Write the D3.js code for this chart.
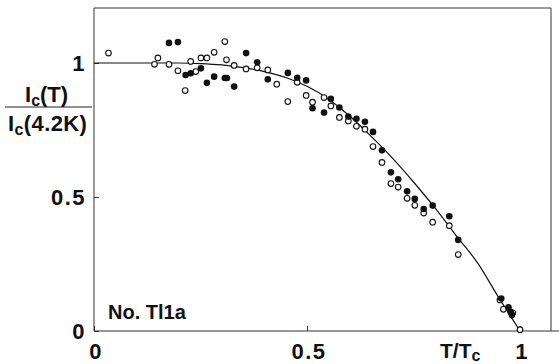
<!DOCTYPE html>
<html>
<head>
<meta charset="utf-8">
<script src="https://cdn.jsdelivr.net/npm/d3@7"></script>
<style>
  html, body { margin: 0; padding: 0; background: #fff; }
  svg { display: block; }
  text { font-family: "Liberation Sans", Arial, Helvetica, sans-serif; font-weight: bold; fill: #111; }
</style>
</head>
<body>
<svg id="chart" width="559" height="364"></svg>
<script>
// Reduced temperature and normalised critical current, sample No. Tl1a
const openT = [0.034, 0.150, 0.142, 0.176, 0.197, 0.227, 0.239, 0.251, 0.265, 0.282,
               0.214, 0.307, 0.311, 0.329, 0.357, 0.383, 0.408, 0.429, 0.455, 0.477,
               0.498, 0.513, 0.540, 0.556, 0.576, 0.597, 0.616, 0.636, 0.655, 0.676,
               0.697, 0.714, 0.735, 0.753, 0.774, 0.795, 0.834, 0.855, 0.953, 0.961,
               0.983, 1.000];
const openV = [1.037, 1.019, 0.995, 0.995, 0.971, 1.006, 0.968, 1.019, 1.019, 1.040,
               0.897, 1.080, 1.012, 0.991, 0.978, 0.982, 0.974, 0.921, 0.856, 0.928,
               0.879, 0.854, 0.871, 0.840, 0.797, 0.784, 0.764, 0.753, 0.688, 0.629,
               0.550, 0.537, 0.495, 0.469, 0.440, 0.406, 0.393, 0.285, 0.116, 0.081,
               0.068, 0.005];

const filledT = [0.176, 0.197, 0.215, 0.227, 0.251, 0.265, 0.282, 0.307, 0.312, 0.329,
                 0.357, 0.383, 0.408, 0.455, 0.477, 0.498, 0.513, 0.540, 0.556, 0.576,
                 0.597, 0.616, 0.636, 0.655, 0.676, 0.697, 0.714, 0.735, 0.753, 0.774,
                 0.795, 0.834, 0.855, 0.956, 0.973, 0.978, 0.981];
const filledV = [1.075, 1.078, 0.955, 0.962, 0.980, 0.926, 0.949, 0.944, 0.944, 0.912,
                 1.037, 1.003, 0.939, 0.963, 0.945, 0.935, 0.831, 0.815, 0.866, 0.834,
                 0.800, 0.792, 0.781, 0.743, 0.674, 0.592, 0.566, 0.521, 0.493, 0.455,
                 0.468, 0.428, 0.340, 0.121, 0.088, 0.071, 0.060];

// Theoretical curve
const curveT = [0, 0.1, 0.2, 0.25, 0.3, 0.35, 0.4, 0.45, 0.5, 0.55, 0.6, 0.65,
                0.7, 0.75, 0.8, 0.85, 0.9, 0.95, 0.98, 1.0];
const curveV = [1.0, 1.0, 1.0, 0.998, 0.993, 0.983, 0.968, 0.946, 0.913, 0.866, 0.802, 0.727,
                0.646, 0.556, 0.460, 0.356, 0.255, 0.125, 0.050, 0.0];

const xTicks = [0, 0.5, 1];
const xTickLabels = ["0", "0.5", "1"];
const yTicks = [0, 0.5, 1];
const yTickLabels = ["0", "0.5", "1"];

const svg = d3.select("#chart");
const x = d3.scaleLinear().domain([0, 1]).range([94, 520]);
const y = d3.scaleLinear().domain([0, 1]).range([331, 63]);
const xMax = x.invert(551), yMax = y.invert(8);

// frame: top and right edges
svg.append("path")
  .attr("d", `M${x(0)},${y(yMax)}H${x(xMax)}V${y(0)}`)
  .attr("fill", "none").attr("stroke", "#333").attr("stroke-width", 1);

// axes
const xAxis = d3.axisBottom(x).tickValues(xTicks).tickSize(-5).tickFormat(() => "");
const yAxis = d3.axisLeft(y).tickValues(yTicks).tickSize(-5).tickFormat(() => "");
const gx = svg.append("g").attr("transform", `translate(0,${y(0)})`).call(xAxis);
gx.select(".domain").attr("d", `M${x(0)},0H559`);
const gy = svg.append("g").attr("transform", `translate(${x(0)},0)`).call(yAxis);
gy.select(".domain").attr("d", `M0,${y(0)}V${y(yMax)}`);
svg.selectAll(".domain, .tick line").attr("stroke", "#333").attr("stroke-width", 1);

// tick labels
svg.selectAll(".xlab").data(xTicks).join("text")
  .attr("class", "xlab")
  .attr("x", d => x(d) + 2).attr("y", 359)
  .attr("text-anchor", "middle").attr("font-size", 22)
  .attr("letter-spacing", 1.5)
  .text((d, i) => xTickLabels[i]);
svg.selectAll(".ylab").data(yTicks).join("text")
  .attr("class", "ylab")
  .attr("x", 86).attr("y", d => y(d) + 8)
  .attr("text-anchor", "end").attr("font-size", 22)
  .attr("letter-spacing", 1.5)
  .text((d, i) => yTickLabels[i]);

// x-axis title T/Tc
const xt = svg.append("text").attr("x", 440).attr("y", 358).attr("font-size", 21);
xt.append("tspan").text("T/T");
xt.append("tspan").attr("dy", 3).attr("font-size", 16).text("c");

// y-axis title: Ic(T) / Ic(4.2K)
const num = svg.append("text").attr("x", 25).attr("y", 102).attr("font-size", 22);
num.append("tspan").text("I");
num.append("tspan").attr("dy", 4).attr("font-size", 16).text("c");
num.append("tspan").attr("dy", -4).text("(T)");
svg.append("line").attr("x1", 5).attr("x2", 92).attr("y1", 107).attr("y2", 107)
  .attr("stroke", "#222").attr("stroke-width", 1.2);
const den = svg.append("text").attr("x", 8).attr("y", 131).attr("font-size", 22)
  .attr("letter-spacing", 0.4);
den.append("tspan").text("I");
den.append("tspan").attr("dy", 4).attr("font-size", 16).text("c");
den.append("tspan").attr("dy", -4).text("(4.2K)");

// sample label
svg.append("text").attr("x", 108).attr("y", 319).attr("font-size", 20).text("No. Tl1a");

// curve
const curve = curveT.map((t, i) => [t, curveV[i]]);
svg.append("path").datum(curve)
  .attr("fill", "none").attr("stroke", "#111").attr("stroke-width", 1.2)
  .attr("d", d3.line().x(d => x(d[0])).y(d => y(d[1])).curve(d3.curveMonotoneX));

// data points
const openPts = openT.map((t, i) => [t, openV[i]]);
const filledPts = filledT.map((t, i) => [t, filledV[i]]);
svg.append("g").selectAll("circle").data(openPts).join("circle")
  .attr("cx", d => x(d[0])).attr("cy", d => y(d[1])).attr("r", 2.8)
  .attr("fill", "#fff").attr("stroke", "#111").attr("stroke-width", 1.1);
svg.append("g").selectAll("circle").data(filledPts).join("circle")
  .attr("cx", d => x(d[0])).attr("cy", d => y(d[1])).attr("r", 3.3)
  .attr("fill", "#111");
</script>
</body>
</html>
